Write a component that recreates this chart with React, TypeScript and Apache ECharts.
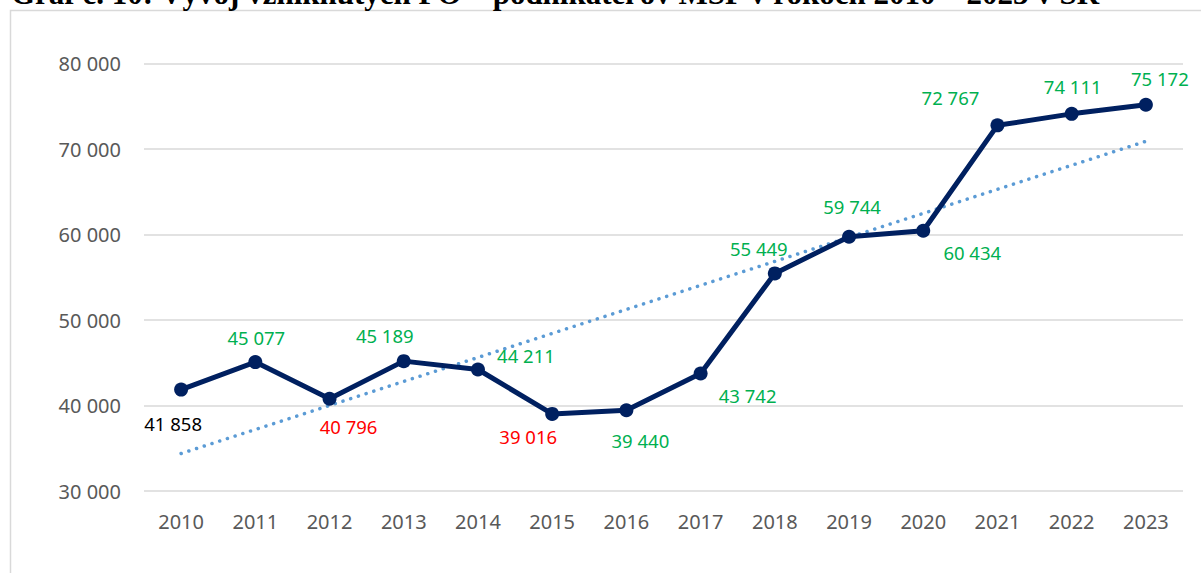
import React, { useEffect, useRef } from "react";
import * as echarts from "echarts";

const years = ["2010", "2011", "2012", "2013", "2014", "2015", "2016", "2017", "2018", "2019", "2020", "2021", "2022", "2023"];
const values = [41858, 45077, 40796, 45189, 44211, 39016, 39440, 43742, 55449, 59744, 60434, 72767, 74111, 75172];
const yTicks = [30000, 40000, 50000, 60000, 70000, 80000];
const titleText = "Graf č. 10: Vývoj vzniknutých FO – podnikateľov MSP v rokoch 2010 – 2023 v SR";

// label styling (not data)
const labelColors = ["#000000", "#00B050", "#FF0000", "#00B050", "#00B050", "#FF0000", "#00B050", "#00B050", "#00B050", "#00B050", "#00B050", "#00B050", "#00B050", "#00B050"];
const labelOffsets: [number, number][] = [
  [-8, 34], [1, -25], [19, 28], [-19, -26], [48, -14], [-24, 23], [14, 30],
  [47, 22], [-16, -25], [3, -30], [49, 22], [-47, -28], [1, -27], [14, -26],
];

function fmt(v: number): string {
  return String(Math.round(v)).replace(/\B(?=(\d{3})+(?!\d))/g, " ");
}

function trend(vals: number[]): number[] {
  const n = vals.length;
  const mx = (n - 1) / 2;
  const my = vals.reduce((a, b) => a + b, 0) / n;
  let sxy = 0, sxx = 0;
  vals.forEach((v, i) => { sxy += (i - mx) * (v - my); sxx += (i - mx) * (i - mx); });
  const b = sxy / sxx;
  return vals.map((_, i) => my + b * (i - mx));
}

export default function App() {
  const ref = useRef<HTMLDivElement>(null);
  useEffect(() => {
    if (!ref.current) return;
    const chart = echarts.init(ref.current, null, { renderer: "svg" });
    const font = "'Noto Sans', sans-serif";
    chart.setOption({
      animation: false,
      backgroundColor: "#ffffff",
      graphic: [
        { type: "rect", shape: { x: 10.5, y: 10.5, width: 1220, height: 600 }, style: { fill: "none", stroke: "#d9d9d9", lineWidth: 1.5 }, silent: true },
        { type: "text", x: 11, y: 9, style: { text: titleText, font: "bold 31px 'Liberation Serif', serif", fill: "#000", verticalAlign: "bottom", align: "left" }, silent: true, z: 10 },
      ],
      grid: { left: 144, right: 18, top: 63.5, bottom: 82 },
      xAxis: {
        type: "category",
        data: years,
        boundaryGap: true,
        axisLine: { show: false },
        axisTick: { show: false },
        axisLabel: { color: "#595959", fontSize: 20, fontFamily: font, margin: 20 },
      },
      yAxis: {
        type: "value",
        min: yTicks[0],
        max: yTicks[yTicks.length - 1],
        interval: 10000,
        axisLine: { show: false },
        axisTick: { show: false },
        splitLine: { lineStyle: { color: "#d9d9d9", width: 1.5 } },
        axisLabel: { color: "#595959", fontSize: 20, fontFamily: font, margin: 23, formatter: (v: number) => fmt(v) },
      },
      series: [
        {
          type: "line",
          data: trend(values),
          symbol: "none",
          lineStyle: { color: "#5B9BD5", width: 3.5, type: [0.1, 8], cap: "round" },
          silent: true,
          z: 1,
        },
        {
          type: "line",
          data: values.map((v, i) => ({
            value: v,
            label: {
              show: true,
              position: "inside",
              offset: labelOffsets[i],
              color: labelColors[i],
              fontSize: 18.5,
              fontFamily: font,
              formatter: () => fmt(v),
            },
          })),
          symbol: "circle",
          symbolSize: 14,
          itemStyle: { color: "#002060" },
          lineStyle: { color: "#002060", width: 5 },
          z: 3,
        },
      ],
    });
    return () => chart.dispose();
  }, []);
  return <div ref={ref} style={{ position: "absolute", left: 0, top: 0, width: 1201, height: 573 }} />;
}
